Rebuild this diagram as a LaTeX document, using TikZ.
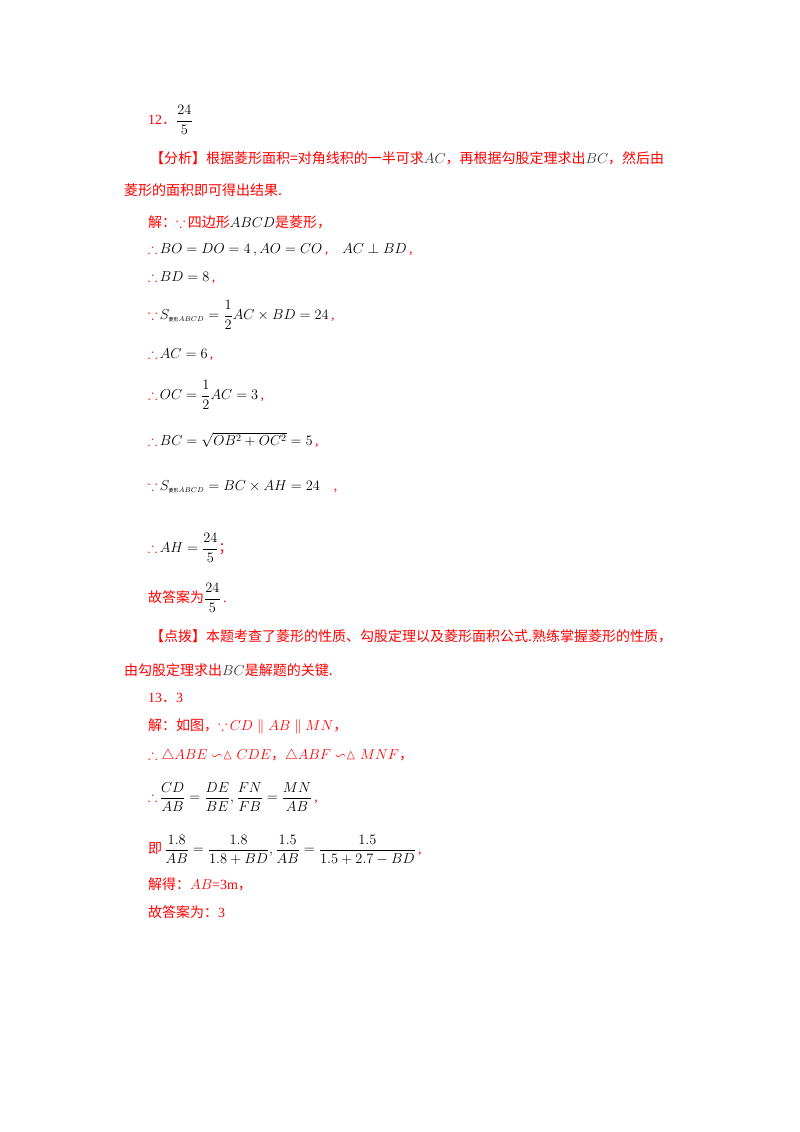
\documentclass[tikz,border=0pt]{standalone}
\usepackage{amsmath,amssymb}
\usepackage{fontspec}
\setmainfont{Liberation Serif}
\newfontfamily\cjk{Noto Sans CJK SC}
\definecolor{rd}{RGB}{255,0,0}
\begin{document}
\begin{tikzpicture}[x=1pt,y=-1pt,
  t/.style={anchor=west,inner sep=0pt,text=rd,font=\fontsize{14}{17}\selectfont}]
\useasboundingbox[fill=white] (0,0) rectangle (800,1132);
\newcommand{\C}[1]{{\cjk\fontsize{14}{17}\selectfont #1}}
\newcommand{\TF}{$\therefore$\,}
\newcommand{\BC}{$\because$\,}
\node[t] (a1) at (148,120) {12\C{．}\textcolor{black}{$\dfrac{24}{5}$}};
\node[t] (a2) at (150,158) {\C{【分析】根据菱形面积=对角线积的一半可求}\textcolor{black!80}{$AC$}\C{，再根据勾股定理求出}\textcolor{black!80}{$BC$}\C{，然后由}};
\node[t] (a3) at (124,190) {\C{菱形的面积即可得出结果.}};
\node[t] (a4) at (148,222) {\C{解：}\BC\C{四边形}\textcolor{black}{$ABCD$}\C{是菱形，}};
\node[t] (a5) at (148,250) {\TF\textcolor{black}{$BO=DO=4\,,AO=CO$}\,,\quad\textcolor{black}{$AC\perp BD$}\,,};
\node[t] (a6) at (148,278) {\TF\textcolor{black}{$BD=8$}\,,};
\node[t] (a7) at (148,315) {\BC\textcolor{black}{$S_{\text{\C{\tiny 菱形}}\scriptscriptstyle ABCD}=\dfrac12 AC\times BD=24$}\,,};
\node[t] (a8) at (148,355) {\TF\textcolor{black}{$AC=6$}\,,};
\node[t] (a9) at (148,395) {\TF\textcolor{black}{$OC=\dfrac12 AC=3$}\,,};
\node[t] (a10) at (148,440) {\TF\textcolor{black}{$BC=\sqrt{OB^2+OC^2}=5$}\,,};
\node[t] (a11) at (148,487) {\BC\textcolor{black}{$S_{\text{\C{\tiny 菱形}}\scriptscriptstyle ABCD}=BC\times AH=24$}\quad,};
\node[t] (a12) at (148,548) {\TF\textcolor{black}{$AH=\dfrac{24}{5}$}\C{；}};
\node[t] (a13) at (148,598) {\C{故答案为}\textcolor{black}{$\dfrac{24}{5}$}\,.};
\node[t] (a14) at (150,636) {\C{【点拨】本题考查了菱形的性质、勾股定理以及菱形面积公式.熟练掌握菱形的性质，}};
\node[t] (a15) at (124,670) {\C{由勾股定理求出}\textcolor{black!80}{$BC$}\C{是解题的关键.}};
\node[t] (b1) at (148,698) {13\C{．}3};
\node[t] (b2) at (148,726) {\C{解：如图，}\BC$CD\parallel AB\parallel MN$\C{，}};
\node[t] (b3) at (148,756) {$\therefore\triangle ABE\backsim\vartriangle CDE$\C{，}$\triangle ABF\backsim\vartriangle MNF$\C{，}};
\node[t] (b4) at (148,797) {\TF\textcolor{black}{$\dfrac{CD}{AB}=\dfrac{DE}{BE},\dfrac{FN}{FB}=\dfrac{MN}{AB}$}\,,};
\node[t] (b5) at (148,850) {\C{即}\,\textcolor{black}{$\dfrac{1.8}{AB}=\dfrac{1.8}{1.8+BD},\dfrac{1.5}{AB}=\dfrac{1.5}{1.5+2.7-BD}$}\,,};
\node[t] (b6) at (148,884) {\C{解得：}$AB$=3m\C{，}};
\node[t] (b7) at (148,912) {\C{故答案为：}3};
\end{tikzpicture}
\end{document}
